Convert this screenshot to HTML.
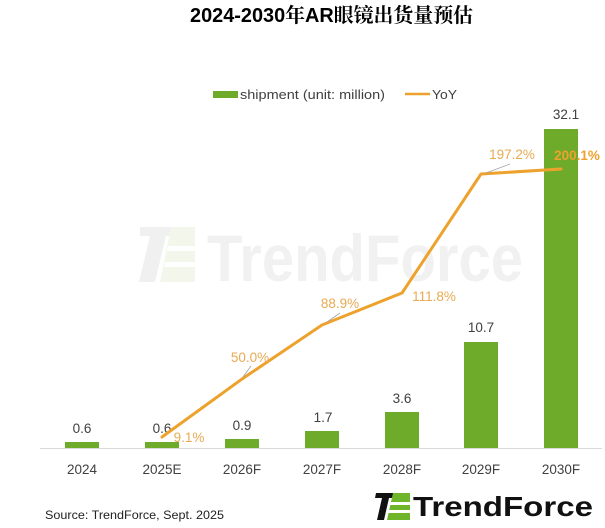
<!DOCTYPE html>
<html>
<head>
<meta charset="utf-8">
<style>
  html,body{margin:0;padding:0;background:#fff;}
  svg{display:block;}
  text{font-family:"Liberation Sans","Noto Sans CJK SC",sans-serif;}
</style>
</head>
<body>
<svg width="605" height="528" viewBox="0 0 605 528" xmlns="http://www.w3.org/2000/svg">
  <rect width="605" height="528" fill="#fff"/>

  <!-- Title -->
  <text x="190" y="22" font-size="20" font-weight="bold" fill="#000" textLength="283" lengthAdjust="spacingAndGlyphs" style="font-family:'Liberation Sans','Noto Serif CJK SC',serif;">2024-2030年AR眼镜出货量预估</text>

  <!-- Watermark -->
  <g>
    <polygon points="140,227 174,227 172,236 166,236 155,282 139,282 150,236 140,236" fill="#f0f0f0"/>
    <polygon points="171,227 195,227 195,282 160,282" fill="#f3f7eb"/>
    <polygon points="168,246 195,246 195,251 167,251" fill="#fff"/>
    <polygon points="165,262 195,262 195,267 164,267" fill="#fff"/>
    <text x="207" y="281" font-size="66" font-weight="bold" fill="#f1f1f1" textLength="316" lengthAdjust="spacingAndGlyphs">TrendForce</text>
  </g>

  <!-- Legend -->
  <rect x="213" y="91" width="25" height="7" fill="#6fab2a"/>
  <text x="240" y="99" font-size="13" fill="#404040" textLength="145" lengthAdjust="spacingAndGlyphs">shipment (unit: million)</text>
  <line x1="405" y1="94" x2="430" y2="94" stroke="#eea22e" stroke-width="2.5"/>
  <text x="432" y="99" font-size="13" fill="#404040" textLength="25" lengthAdjust="spacingAndGlyphs">YoY</text>

  <!-- Axis -->
  <line x1="40" y1="448.5" x2="602" y2="448.5" stroke="#d9d9d9" stroke-width="1"/>

  <!-- Bars -->
  <g fill="#6fab2a">
    <rect x="65" y="442" width="34" height="6"/>
    <rect x="145" y="442" width="34" height="6"/>
    <rect x="225" y="439" width="34" height="9"/>
    <rect x="305" y="431" width="34" height="17"/>
    <rect x="385" y="412" width="34" height="36"/>
    <rect x="464" y="342" width="34" height="106"/>
    <rect x="544" y="129" width="34" height="319"/>
  </g>

  <!-- Bar labels -->
  <g font-size="13.5" fill="#404040" text-anchor="middle">
    <text x="82" y="433">0.6</text>
    <text x="162" y="433">0.6</text>
    <text x="242" y="430">0.9</text>
    <text x="323" y="422">1.7</text>
    <text x="402" y="403">3.6</text>
    <text x="481" y="332">10.7</text>
    <text x="566" y="119">32.1</text>
  </g>

  <!-- X-axis labels -->
  <g font-size="13.5" fill="#404040" text-anchor="middle">
    <text x="82" y="474">2024</text>
    <text x="162" y="474">2025E</text>
    <text x="242" y="474">2026F</text>
    <text x="322" y="474">2027F</text>
    <text x="402" y="474">2028F</text>
    <text x="481" y="474">2029F</text>
    <text x="561" y="474">2030F</text>
  </g>

  <!-- YoY line -->
  <polyline points="162,437 242,379 322,325 402,293 481,174 561,169" fill="none" stroke="#eea22e" stroke-width="3" stroke-linejoin="round" stroke-linecap="round"/>

  <!-- Leader lines -->
  <g stroke="#a0a0a0" stroke-width="0.8">
    <line x1="243" y1="377" x2="251" y2="366"/>
    <line x1="327" y1="322" x2="340" y2="313"/>
    <line x1="486" y1="173" x2="510" y2="164"/>
  </g>

  <!-- YoY labels -->
  <g font-size="13.5" fill="#e8aa52" text-anchor="middle">
    <text x="189" y="442">9.1%</text>
    <text x="250" y="362">50.0%</text>
    <text x="340" y="308">88.9%</text>
    <text x="434" y="301">111.8%</text>
    <text x="512" y="159">197.2%</text>
  </g>
  <text x="577" y="160" font-size="13.5" font-weight="bold" fill="#eea22e" text-anchor="middle">200.1%</text>

  <!-- Source -->
  <text x="45" y="519" font-size="12" fill="#222" textLength="179" lengthAdjust="spacingAndGlyphs">Source: TrendForce, Sept. 2025</text>

  <!-- Logo -->
  <polygon points="376,493 397,493 396,498 389,498 384,520 377,520 382,498 375,498" fill="#111"/>
  <polygon points="393,493 410,493 410,520 387,520" fill="#6fb52a"/>
  <polygon points="391,502 410,502 410,505 390,505" fill="#fff"/>
  <polygon points="389,510 410,510 410,513 388,513" fill="#fff"/>
  <text x="413" y="516" font-size="28" font-weight="bold" fill="#111" textLength="180" lengthAdjust="spacingAndGlyphs">TrendForce</text>
</svg>
</body>
</html>
